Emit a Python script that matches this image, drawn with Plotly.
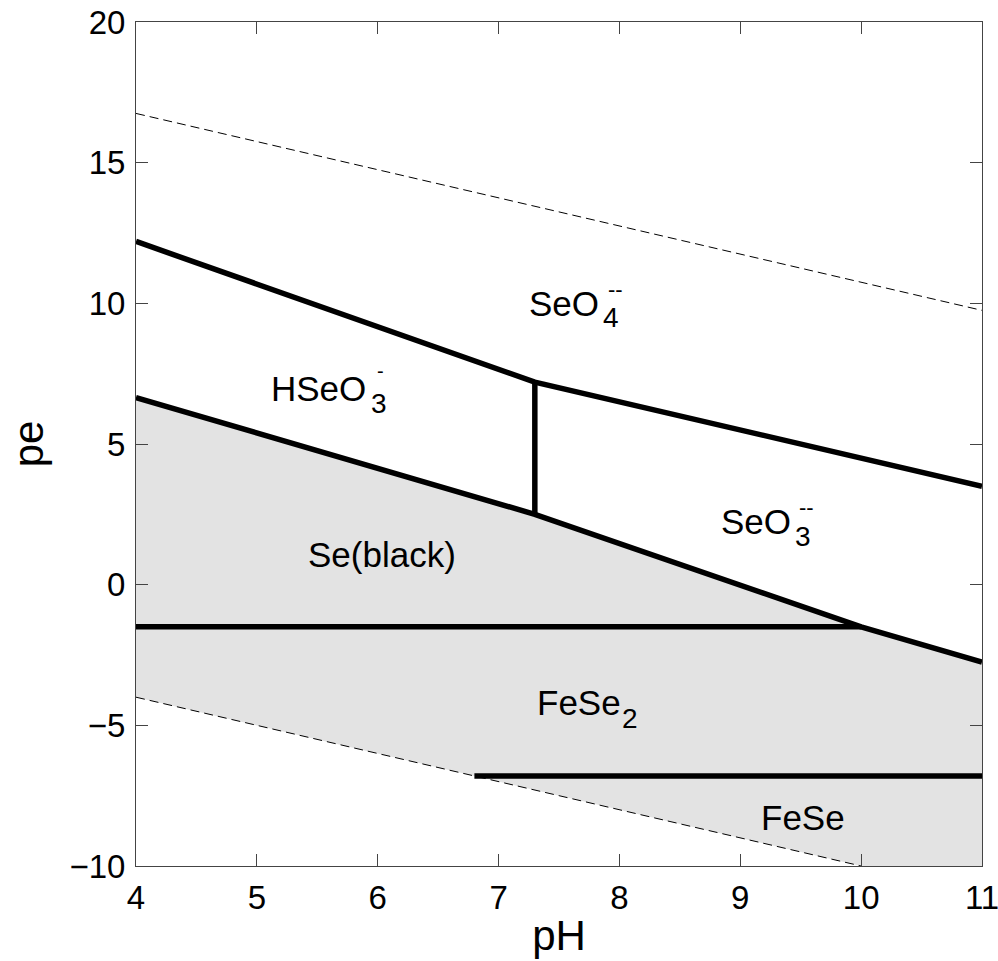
import plotly.graph_objects as go

# ---- data (pH, pe) ----
upper_ph = [4, 7.3, 11]
upper_pe = [12.2, 7.2, 3.5]          # SeO4-- / HSeO3- , SeO3-- boundary
vert_ph = [7.3, 7.3]
vert_pe = [7.2, 2.5]                 # HSeO3- / SeO3-- boundary
lower_ph = [4, 7.3, 10, 11]
lower_pe = [6.65, 2.5, -1.5, -2.75]  # aqueous / solid boundary
sefe_ph = [4, 10]
sefe_pe = [-1.5, -1.5]               # Se(black) / FeSe2
fese_ph = [6.8, 11]
fese_pe = [-6.8, -6.8]               # FeSe2 / FeSe
o2_ph = [4, 11]
o2_pe = [16.75, 9.75]                # water oxidation limit
h2_ph = [4, 10]
h2_pe = [-4, -10]                    # water reduction limit

x_range = [4, 11]
y_range = [-10, 20]

FONT = "Liberation Sans, Arial, sans-serif"

fig = go.Figure()

# shaded solid region: between the aqueous boundary and the water reduction line
fill_x = lower_ph + [x_range[1], h2_ph[1]] + h2_ph[::-1]
fill_y = lower_pe + [y_range[0], h2_pe[1]] + h2_pe[::-1]
fig.add_trace(go.Scatter(x=fill_x, y=fill_y, fill="toself", fillcolor="#e3e3e3",
                         mode="none", hoverinfo="skip", showlegend=False))

dash_style = dict(color="black", width=1, dash="9px,5px")
fig.add_trace(go.Scatter(x=o2_ph, y=o2_pe, mode="lines", line=dash_style, showlegend=False))
fig.add_trace(go.Scatter(x=h2_ph, y=h2_pe, mode="lines", line=dash_style, showlegend=False))

thick = dict(color="black", width=5.5)
for xs, ys in [(upper_ph, upper_pe), (vert_ph, vert_pe), (lower_ph, lower_pe),
               (sefe_ph, sefe_pe), (fese_ph, fese_pe)]:
    fig.add_trace(go.Scatter(x=xs, y=ys, mode="lines", line=thick, showlegend=False))

# ---- labels ----
main_size = 35
sub_size = 28
chg_size = 22
labels = [
    ("SeO", 7.545, 9.98, main_size),
    ("4", 7.93, 9.50, sub_size),
    ("--", 7.965, 10.50, chg_size),
    ("HSeO", 5.512, 6.99, main_size),
    ("3", 6.01, 6.43, sub_size),
    ("-", 6.02, 7.58, 20),
    ("SeO", 9.128, 2.26, main_size),
    ("3", 9.52, 1.72, sub_size),
    ("--", 9.545, 2.75, chg_size),
    ("Se(black)", 6.033, 1.06, main_size),
    ("FeSe", 7.669, -4.19, main_size),
    ("2", 8.085, -4.76, sub_size),
    ("FeSe", 9.521, -8.29, main_size),
]
for text, x, y, size in labels:
    fig.add_annotation(x=x, y=y, text=text, showarrow=False, xanchor="center",
                       yanchor="middle", borderpad=0,
                       font=dict(family=FONT, size=size, color="black"))

axis_common = dict(showgrid=False, zeroline=False, showline=True, linecolor="#444",
                   linewidth=1, mirror="ticks", ticks="inside", ticklen=12, tickwidth=1,
                   tickcolor="#444", automargin=False, ticklabeloverflow="allow",
                   tickfont=dict(family=FONT, size=33, color="black"))

fig.update_xaxes(range=x_range, dtick=1, tick0=4, ticklabelstandoff=2,
                 title=dict(text="pH", font=dict(family=FONT, size=42, color="black"), standoff=6),
                 **axis_common)
fig.update_yaxes(range=y_range, dtick=5, tick0=-10, ticklabelstandoff=3,
                 title=dict(text="pe", font=dict(family=FONT, size=42, color="black"), standoff=12),
                 **axis_common)

fig.update_layout(width=998, height=961, margin=dict(l=136, r=16, t=22, b=95),
                  plot_bgcolor="white", paper_bgcolor="white",
                  font=dict(family=FONT, color="black"), showlegend=False)

fig.write_html("out.html")
